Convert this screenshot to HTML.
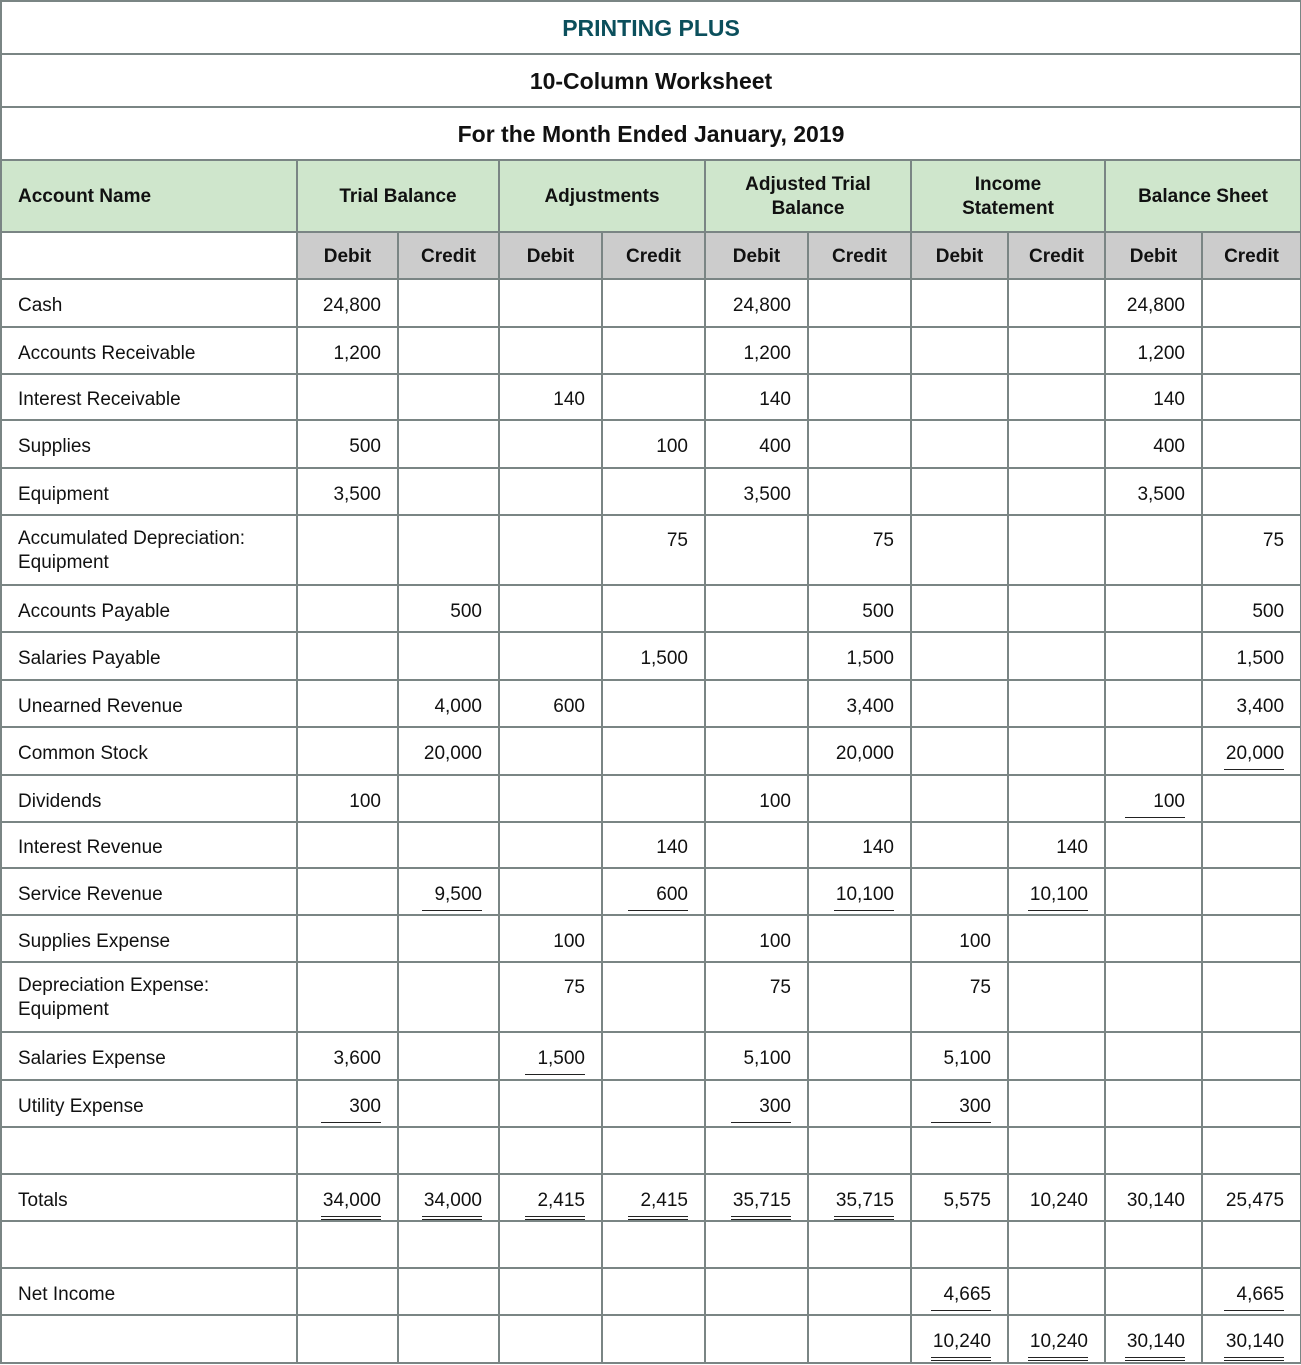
<!DOCTYPE html>
<html><head><meta charset="utf-8"><style>
body{margin:0;background:#fff;}
table{position:absolute;left:0;top:0;border-collapse:collapse;table-layout:fixed;width:1300px;font-family:"Liberation Sans","DejaVu Sans",sans-serif;font-size:19px;color:#111;}
td{border:2px solid #7a8584;padding:6px 16px 0 16px;text-align:right;vertical-align:middle;white-space:nowrap;overflow:hidden;}
td.a{text-align:left;padding-left:16px;}
td.t{text-align:center;font-weight:bold;font-size:23px;padding-top:1px;}
tr.h td{background:#cfe6cc;font-weight:bold;text-align:center;line-height:24px;padding-top:2px;}
tr.h td.a{text-align:left;}
tr.s td{background:#cccccc;font-weight:bold;text-align:center;padding-top:3px;}
tr.s td.w{background:#fff;}
td.tp{vertical-align:top;padding-top:14px;}
td.a2{line-height:24px;padding-top:2px;}
.u,.d{position:relative;display:inline-block;min-width:60px;}
.u:after{content:"";position:absolute;left:0;right:0;bottom:-5px;border-bottom:1.5px solid #222;}
.d:after{content:"";position:absolute;left:0;right:0;bottom:-8px;height:2px;border-top:1.5px solid #222;border-bottom:1.5px solid #222;}
</style></head><body>
<table>
<colgroup><col style="width:296px"><col style="width:101px"><col style="width:101px"><col style="width:103px"><col style="width:103px"><col style="width:103px"><col style="width:103px"><col style="width:97px"><col style="width:97px"><col style="width:97px"><col style="width:99px"></colgroup>
<tr style="height:53px"><td colspan="11" class="t" style="color:#0b4f5c">PRINTING PLUS</td></tr>
<tr style="height:53px"><td colspan="11" class="t">10-Column Worksheet</td></tr>
<tr style="height:53px"><td colspan="11" class="t">For the Month Ended January, 2019</td></tr>
<tr class="h" style="height:72px"><td class="a">Account Name</td><td colspan="2">Trial Balance</td><td colspan="2">Adjustments</td><td colspan="2">Adjusted Trial<br>Balance</td><td colspan="2">Income<br>Statement</td><td colspan="2">Balance Sheet</td></tr>
<tr class="s" style="height:47px"><td class="w"></td><td>Debit</td><td>Credit</td><td>Debit</td><td>Credit</td><td>Debit</td><td>Credit</td><td>Debit</td><td>Credit</td><td>Debit</td><td>Credit</td></tr>
<tr style="height:48px"><td class="a">Cash</td><td>24,800</td><td></td><td></td><td></td><td>24,800</td><td></td><td></td><td></td><td>24,800</td><td></td></tr>
<tr style="height:47px"><td class="a">Accounts Receivable</td><td>1,200</td><td></td><td></td><td></td><td>1,200</td><td></td><td></td><td></td><td>1,200</td><td></td></tr>
<tr style="height:46px"><td class="a">Interest Receivable</td><td></td><td></td><td>140</td><td></td><td>140</td><td></td><td></td><td></td><td>140</td><td></td></tr>
<tr style="height:48px"><td class="a">Supplies</td><td>500</td><td></td><td></td><td>100</td><td>400</td><td></td><td></td><td></td><td>400</td><td></td></tr>
<tr style="height:47px"><td class="a">Equipment</td><td>3,500</td><td></td><td></td><td></td><td>3,500</td><td></td><td></td><td></td><td>3,500</td><td></td></tr>
<tr style="height:70px"><td class="a a2">Accumulated Depreciation:<br>Equipment</td><td class="tp"></td><td class="tp"></td><td class="tp"></td><td class="tp">75</td><td class="tp"></td><td class="tp">75</td><td class="tp"></td><td class="tp"></td><td class="tp"></td><td class="tp">75</td></tr>
<tr style="height:47px"><td class="a">Accounts Payable</td><td></td><td>500</td><td></td><td></td><td></td><td>500</td><td></td><td></td><td></td><td>500</td></tr>
<tr style="height:48px"><td class="a">Salaries Payable</td><td></td><td></td><td></td><td>1,500</td><td></td><td>1,500</td><td></td><td></td><td></td><td>1,500</td></tr>
<tr style="height:47px"><td class="a">Unearned Revenue</td><td></td><td>4,000</td><td>600</td><td></td><td></td><td>3,400</td><td></td><td></td><td></td><td>3,400</td></tr>
<tr style="height:48px"><td class="a">Common Stock</td><td></td><td>20,000</td><td></td><td></td><td></td><td>20,000</td><td></td><td></td><td></td><td><span class="u">20,000</span></td></tr>
<tr style="height:47px"><td class="a">Dividends</td><td>100</td><td></td><td></td><td></td><td>100</td><td></td><td></td><td></td><td><span class="u">100</span></td><td></td></tr>
<tr style="height:46px"><td class="a">Interest Revenue</td><td></td><td></td><td></td><td>140</td><td></td><td>140</td><td></td><td>140</td><td></td><td></td></tr>
<tr style="height:47px"><td class="a">Service Revenue</td><td></td><td><span class="u">9,500</span></td><td></td><td><span class="u">600</span></td><td></td><td><span class="u">10,100</span></td><td></td><td><span class="u">10,100</span></td><td></td><td></td></tr>
<tr style="height:47px"><td class="a">Supplies Expense</td><td></td><td></td><td>100</td><td></td><td>100</td><td></td><td>100</td><td></td><td></td><td></td></tr>
<tr style="height:70px"><td class="a a2">Depreciation Expense:<br>Equipment</td><td class="tp"></td><td class="tp"></td><td class="tp">75</td><td class="tp"></td><td class="tp">75</td><td class="tp"></td><td class="tp">75</td><td class="tp"></td><td class="tp"></td><td class="tp"></td></tr>
<tr style="height:48px"><td class="a">Salaries Expense</td><td>3,600</td><td></td><td><span class="u">1,500</span></td><td></td><td>5,100</td><td></td><td>5,100</td><td></td><td></td><td></td></tr>
<tr style="height:47px"><td class="a">Utility Expense</td><td><span class="u">300</span></td><td></td><td></td><td></td><td><span class="u">300</span></td><td></td><td><span class="u">300</span></td><td></td><td></td><td></td></tr>
<tr style="height:47px"><td class="a"></td><td></td><td></td><td></td><td></td><td></td><td></td><td></td><td></td><td></td><td></td></tr>
<tr style="height:47px"><td class="a">Totals</td><td><span class="d">34,000</span></td><td><span class="d">34,000</span></td><td><span class="d">2,415</span></td><td><span class="d">2,415</span></td><td><span class="d">35,715</span></td><td><span class="d">35,715</span></td><td>5,575</td><td>10,240</td><td>30,140</td><td>25,475</td></tr>
<tr style="height:47px"><td class="a"></td><td></td><td></td><td></td><td></td><td></td><td></td><td></td><td></td><td></td><td></td></tr>
<tr style="height:47px"><td class="a">Net Income</td><td></td><td></td><td></td><td></td><td></td><td></td><td><span class="u">4,665</span></td><td></td><td></td><td><span class="u">4,665</span></td></tr>
<tr style="height:48px"><td class="a"></td><td></td><td></td><td></td><td></td><td></td><td></td><td><span class="d">10,240</span></td><td><span class="d">10,240</span></td><td><span class="d">30,140</span></td><td><span class="d">30,140</span></td></tr>
</table>
</body></html>
